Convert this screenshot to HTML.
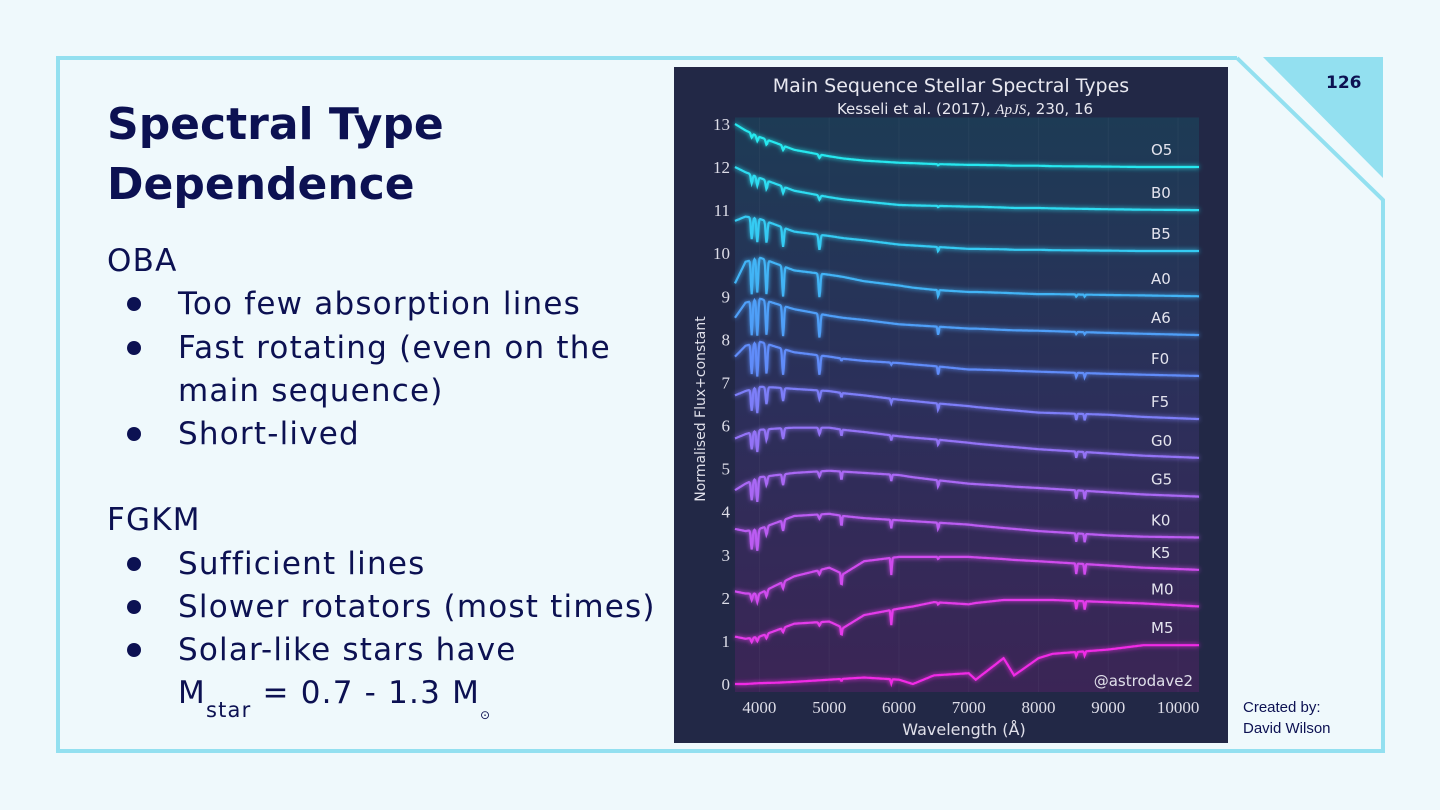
<!DOCTYPE html>
<html><head><meta charset="utf-8">
<style>
*{margin:0;padding:0;box-sizing:border-box}
body{width:1440px;height:810px;background:#eff9fc;position:relative;overflow:hidden;font-family:"DejaVu Sans","Liberation Sans",sans-serif;color:#0c1152}
.t{position:absolute;white-space:nowrap}
.title{left:107px;font-size:44px;font-weight:bold;line-height:60px}
.b{font-size:31px;line-height:43px;letter-spacing:1.2px}
.dot{position:absolute;left:127px;width:14px;height:14px;border-radius:50%;background:#0c1152}
</style></head><body>
<svg width="1440" height="810" style="position:absolute;left:0;top:0">
<polygon points="1263,57 1383,57 1383,178" fill="#93e0f0"/>
<polyline points="1237,58 58,58 58,751 1383,751 1383,200 1237,58" fill="none" stroke="#93e0f0" stroke-width="4"/>
</svg>
<div class="t" style="left:1326px;top:73px;font-size:17px;font-weight:bold">126</div>
<div class="t title" style="top:95px">Spectral Type<br>Dependence</div>
<div>
<div class="t b" style="left:107px;top:240px">OBA</div>
<div class="dot" style="top:297px"></div><div class="t b" style="left:178px;top:283px">Too few absorption lines</div>
<div class="dot" style="top:341px"></div><div class="t b" style="left:178px;top:327px">Fast rotating (even on the</div>
<div class="t b" style="left:178px;top:370px">main sequence)</div>
<div class="dot" style="top:427px"></div><div class="t b" style="left:178px;top:413px">Short-lived</div>
<div class="t b" style="left:107px;top:499px">FGKM</div>
<div class="dot" style="top:557px"></div><div class="t b" style="left:178px;top:543px">Sufficient lines</div>
<div class="dot" style="top:600px"></div><div class="t b" style="left:178px;top:586px">Slower rotators (most times)</div>
<div class="dot" style="top:643px"></div><div class="t b" style="left:178px;top:629px">Solar-like stars have</div>
<div class="t b" style="left:178px;top:672px">M<sub style="font-size:21px;vertical-align:-14px">star</sub> = 0.7 - 1.3 M<sub style="font-size:12px;vertical-align:-16px">⊙</sub></div>
</div>
<div class="t" style="left:1243px;top:697px;font-size:15px;line-height:21px;font-family:'Liberation Sans',sans-serif">Created by:<br>David Wilson</div>

<svg id="chart" width="554" height="676" style="position:absolute;left:674px;top:67px">
<defs>
<linearGradient id="pg" x1="0" y1="0" x2="0" y2="1"><stop offset="0" stop-color="#1d3b55"/><stop offset="0.5" stop-color="#2c2f5a"/><stop offset="1" stop-color="#3b2556"/></linearGradient>
<filter id="glow" x="-5%" y="-20%" width="110%" height="140%"><feGaussianBlur stdDeviation="2.5" result="b"/><feMerge><feMergeNode in="b"/><feMergeNode in="SourceGraphic"/></feMerge></filter>
</defs>
<rect width="554" height="676" fill="#222846"/>
</svg>
<script>
const wave=[3650,3800,4000,4250,4500,5000,5200,5500,6000,6200,6500,7000,7100,7500,7650,8000,8200,9000,9500,10300];
const types=["O5","B0","B5","A0","A6","F0","F5","G0","G5","K0","K5","M0","M5"];
const fO5=[13.0,12.85,12.7,12.55,12.4,12.25,12.2,12.15,12.1,12.09,12.07,12.05,12.05,12.04,12.03,12.03,12.02,12.01,12.0,12.0];
const fB0=[12.0,11.88,11.75,11.6,11.45,11.3,11.25,11.2,11.12,11.11,11.1,11.08,11.08,11.06,11.05,11.05,11.04,11.02,11.01,11.0];
const fB5=[10.75,10.85,10.8,10.65,10.5,10.4,10.35,10.3,10.2,10.18,10.15,10.1,10.1,10.09,10.08,10.08,10.07,10.06,10.05,10.05];
const fA0=[9.3,9.8,9.9,9.75,9.6,9.5,9.45,9.35,9.25,9.2,9.15,9.1,9.1,9.08,9.07,9.05,9.05,9.03,9.02,9.0];
const fA6=[8.5,8.85,8.95,8.82,8.7,8.55,8.5,8.45,8.35,8.33,8.3,8.25,8.25,8.22,8.21,8.2,8.19,8.15,8.13,8.1];
const fF0=[7.6,7.85,7.95,7.82,7.7,7.6,7.55,7.5,7.45,7.42,7.38,7.3,7.3,7.28,7.27,7.25,7.24,7.2,7.18,7.15];
const fF5=[6.7,6.8,6.9,6.88,6.85,6.8,6.75,6.7,6.6,6.57,6.52,6.45,6.43,6.37,6.35,6.3,6.29,6.25,6.2,6.15];
const fG0=[5.7,5.8,5.9,5.93,5.95,5.95,5.9,5.85,5.75,5.72,5.68,5.6,5.58,5.52,5.5,5.45,5.43,5.35,5.3,5.25];
const fG5=[4.5,4.65,4.8,4.85,4.9,4.95,4.93,4.9,4.85,4.8,4.74,4.65,4.64,4.6,4.58,4.55,4.53,4.45,4.4,4.35];
const fK0=[3.6,3.55,3.6,3.75,3.9,3.95,3.9,3.85,3.8,3.78,3.75,3.7,3.68,3.62,3.6,3.55,3.53,3.45,3.42,3.4];
const fK5=[2.15,2.1,2.1,2.3,2.5,2.7,2.55,2.85,2.95,2.95,2.95,2.95,2.94,2.9,2.88,2.85,2.83,2.75,2.7,2.65];
const fM0=[1.1,1.05,1.1,1.25,1.4,1.45,1.3,1.6,1.75,1.8,1.9,1.85,1.88,1.95,1.95,1.95,1.95,1.9,1.87,1.8];
const fM5=[0.0,0.0,0.02,0.03,0.05,0.1,0.12,0.15,0.1,0.0,0.2,0.25,0.1,0.6,0.2,0.6,0.7,0.8,0.9,0.9];
const fluxes=[fO5,fB0,fB5,fA0,fA6,fF0,fF5,fG0,fG5,fK0,fK5,fM0,fM5];
const lineWave=[3890,3970,4102,4340,4861,5175,5890,6563,8542,8662];
const dO5=[0.1,0.12,0.12,0.1,0.08,0,0,0.03,0,0];
const dB0=[0.2,0.2,0.2,0.15,0.1,0,0,0.03,0,0];
const dB5=[0.5,0.55,0.5,0.45,0.35,0,0,0.1,0,0];
const dA0=[0.8,0.8,0.8,0.7,0.55,0,0,0.15,0.05,0.05];
const dA6=[0.8,0.85,0.8,0.7,0.55,0,0,0.2,0.05,0.05];
const dF0=[0.7,0.8,0.7,0.6,0.45,0.05,0.05,0.2,0.1,0.1];
const dF5=[0.5,0.6,0.4,0.3,0.2,0.1,0.1,0.15,0.15,0.15];
const dG0=[0.4,0.5,0.25,0.25,0.15,0.15,0.12,0.12,0.15,0.15];
const dG5=[0.45,0.55,0.2,0.25,0.12,0.2,0.15,0.15,0.2,0.2];
const dK0=[0.45,0.5,0.2,0.25,0.1,0.25,0.2,0.15,0.2,0.2];
const dK5=[0.15,0.2,0.15,0.15,0.1,0.3,0.4,0.05,0.25,0.25];
const dM0=[0.1,0.1,0.1,0.1,0.08,0.2,0.35,0.05,0.2,0.2];
const dM5=[0,0,0,0,0,0.05,0.1,0,0.1,0.1];
const depths=[dO5,dB0,dB5,dA0,dA6,dF0,dF5,dG0,dG5,dK0,dK5,dM0,dM5];
const colors=["#25e8ef","#2ddcf1","#36cbf3","#42b4f6","#4f9ff8","#608cf9","#7d7ef8","#9373f6","#a968f4","#bb5cf2","#d04bee","#e43aea","#f12ae6"];
const yTicks=[0,1,2,3,4,5,6,7,8,9,10,11,12,13];
const xTicks=[4000,5000,6000,7000,8000,9000,10000];

const NS="http://www.w3.org/2000/svg";
const svg=document.getElementById('chart');
const X0=61,X1=525,W0=3650,W1=10300,YB=617,YPER=43.08;
const sx=w=>X0+(w-W0)/(W1-W0)*(X1-X0);
const sy=v=>YB-v*YPER;
function mk(t,a,p){const e=document.createElementNS(NS,t);for(const k in a)e.setAttribute(k,a[k]);(p||svg).appendChild(e);return e;}
const plot=mk('rect',{x:X0,y:sy(13.15),width:X1-X0,height:YB-sy(13.15)+8,fill:'url(#pg)'});


xTicks.forEach(t=>{const g=mk('line',{x1:sx(t),x2:sx(t),y1:sy(13.15),y2:YB+8,stroke:'#ffffff',"stroke-opacity":0.04});

});
function interp(w,f){for(let i=0;i<wave.length-1;i++){if(w<=wave[i+1]){const t=(w-wave[i])/(wave[i+1]-wave[i]);return f[i]+t*(f[i+1]-f[i]);}}return f[f.length-1];}
types.forEach((ty,k)=>{
  const f=fluxes[k],d=depths[k];
  let pts=[];
  for(let w=W0;w<=W1;w+=10){
    let v=interp(w,f);
    lineWave.forEach((lw,j)=>{const dd=d[j];if(dd>0){const wd=lw<5000?12:8;v-=dd*Math.exp(-((w-lw)*(w-lw))/(2*wd*wd));}});
    pts.push(sx(w).toFixed(1)+','+sy(v).toFixed(1));
  }
  const pl=mk('polyline',{points:pts.join(' '),fill:'none',stroke:colors[k],"stroke-width":2.2,filter:'url(#glow)'});
  
  
  const lb=mk('text',{x:477,y:sy(f[f.length-1]+0.28),fill:'#e4e4ee',"font-size":15,"font-family":"DejaVu Sans, sans-serif"});
  lb.textContent=ty;
  
  
});
yTicks.forEach(t=>{const e=mk('text',{x:56,y:sy(t)+6,fill:'#dddde8',"font-size":17,"text-anchor":"end","font-family":"Liberation Serif, serif"});e.textContent=t;

});
xTicks.forEach(t=>{const e=mk('text',{x:sx(t),y:YB+29,fill:'#dddde8',"font-size":17,"text-anchor":"middle","font-family":"Liberation Serif, serif"});e.textContent=t;

});
const tt=mk('text',{x:277,y:25,fill:'#e8e8f0',"font-size":19,"text-anchor":"middle","font-family":"DejaVu Sans, sans-serif"});tt.textContent='Main Sequence Stellar Spectral Types';


const st=mk('text',{x:291,y:47,fill:'#e8e8f0',"font-size":15,"text-anchor":"middle","font-family":"DejaVu Sans, sans-serif"});st.innerHTML='Kesseli et al. (2017), <tspan font-style="italic" font-family="Liberation Serif, serif">ApJS</tspan>, 230, 16';


const xl=mk('text',{x:290,y:668,fill:'#e0e0ea',"font-size":16,"text-anchor":"middle","font-family":"DejaVu Sans, sans-serif"});xl.textContent='Wavelength (Å)';


const yl=mk('text',{x:0,y:0,fill:'#e0e0ea',"font-size":14,"text-anchor":"middle","font-family":"DejaVu Sans, sans-serif",transform:'translate(31,342) rotate(-90)'});yl.textContent='Normalised Flux+constant';


const wm=mk('text',{x:519,y:619,fill:'#e0e0ea',"font-size":15,"text-anchor":"end","font-family":"DejaVu Sans, sans-serif"});wm.textContent='@astrodave2';


</script>
</body></html>
